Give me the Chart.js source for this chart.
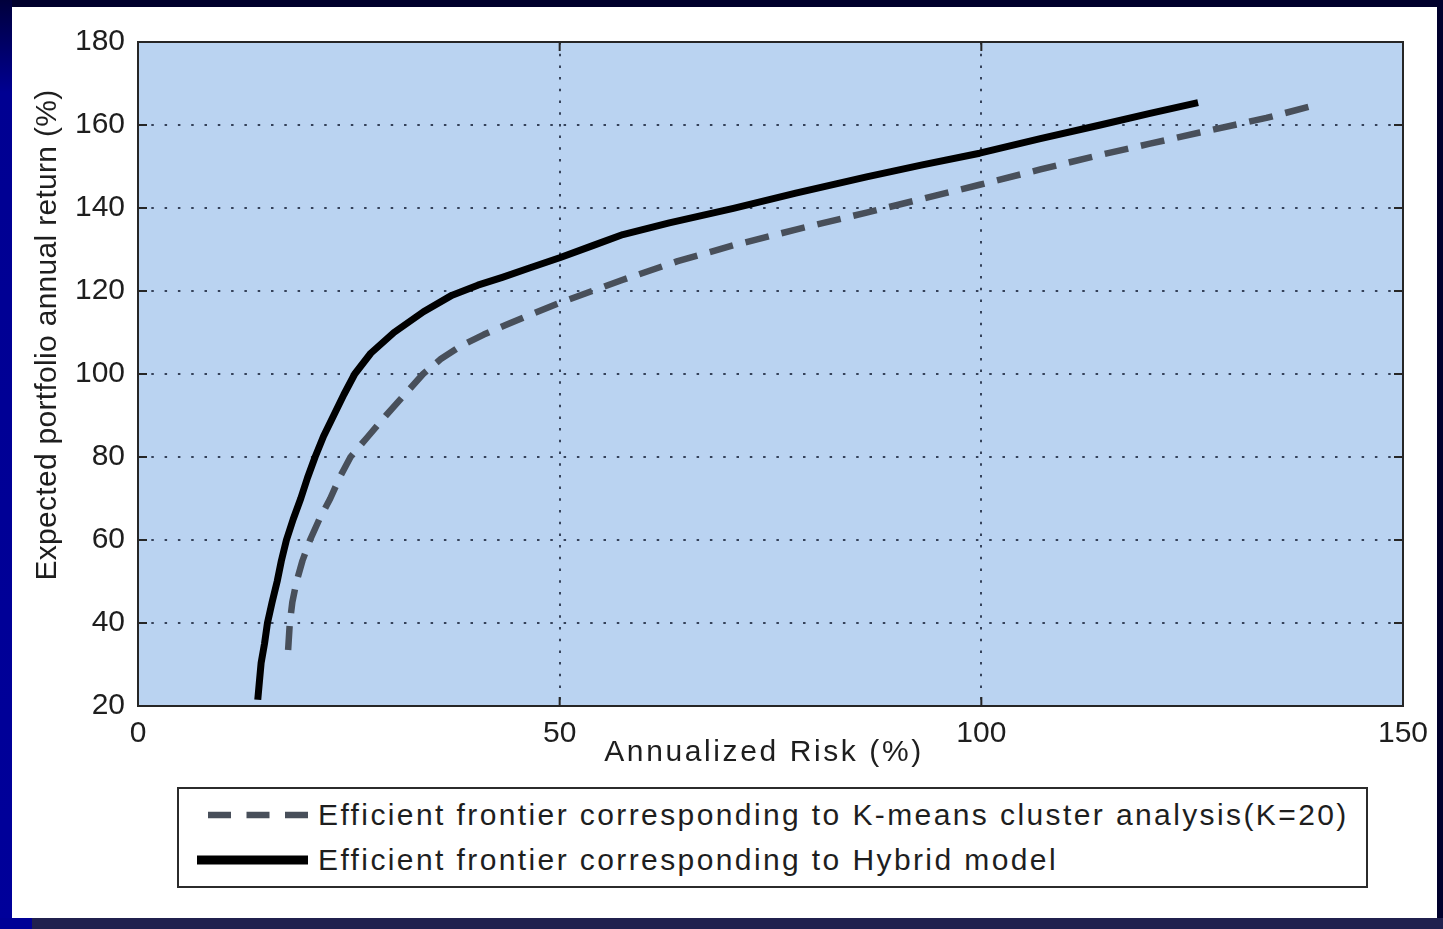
<!DOCTYPE html>
<html>
<head>
<meta charset="utf-8">
<title>Efficient frontier</title>
<script src="https://cdn.jsdelivr.net/npm/chart.js@4.4.1/dist/chart.umd.min.js"></script>
<style>
  html, body { margin: 0; padding: 0; }
  body {
    width: 1443px; height: 929px; position: relative; overflow: hidden;
    background: #00002c;
    font-family: "Liberation Sans", Arial, sans-serif;
  }
  #leftBar { position: absolute; left: 0; top: 0; width: 12px; height: 929px;
    background: linear-gradient(#00003c, #000092 10%, #00009a); }
  #bottomBar { position: absolute; left: 0; top: 918px; width: 1443px; height: 11px;
    background: linear-gradient(90deg, #000096 0, #000096 32px, #20204e 32px); }
  #panel { position: absolute; left: 12px; top: 7px; width: 1425px; height: 911px; background: #fff; }
  #chartBox { position: absolute; left: 0; top: 0; width: 1443px; height: 929px; }
  #legend { position: absolute; left: 177px; top: 787px; width: 1187px; height: 97px;
    border: 2px solid #2b2b2b; background: #fff; }
  .legend-row { position: absolute; left: 0; height: 44px; width: 100%; }
  .legend-row svg { position: absolute; left: 18px; top: 0; }
  .legend-row span { position: absolute; left: 139px; top: 2px; font-size: 30px;
    letter-spacing: 2.4px; color: #1e1e1e; white-space: nowrap; line-height: 36px; }
</style>
</head>
<body>
<div id="leftBar"></div>
<div id="bottomBar"></div>
<div id="panel"></div>
<div id="chartBox"><canvas id="frontierChart" width="1443" height="929"></canvas></div>
<div id="legend"></div>
<script>
// Efficient frontier corresponding to K-means cluster analysis (K=20)
const kmeansRisk   = [17.8, 18.0, 18.3, 18.8, 19.5, 20.4, 21.5, 22.8, 23.9, 25.2, 27.3, 29.4, 31.6, 33.8, 35.9, 38.3, 41.0, 43.6, 46.5, 49.8,
                      57.5, 64.0, 70.6, 78.0, 86.4, 93.0, 99.8, 107.0, 114.1, 120.0, 125.9, 133.8, 139.4];
const kmeansReturn = [33.5, 40.0, 45.0, 50.0, 55.0, 60.0, 65.0, 70.0, 75.0, 80.0, 85.0, 90.0, 95.0, 100.0, 103.6, 106.8, 109.5, 111.8, 114.3, 117.0,
                      122.7, 127.2, 131.0, 134.8, 138.9, 142.2, 145.6, 149.3, 152.8, 155.5, 158.2, 161.7, 164.7];

// Efficient frontier corresponding to Hybrid model
const hybridRisk   = [14.2, 14.4, 14.6, 15.0, 15.35, 15.9, 16.5, 17.0, 17.6, 18.4, 19.3, 20.1, 21.0, 22.0, 23.2, 24.4, 25.7, 27.6, 30.35, 33.85,
                      37.25, 40.3, 43.2, 46.5, 50.0, 54.0, 57.5, 63.0, 70.6, 78.0, 86.4, 93.0, 99.8, 107.0, 114.1, 120.0, 125.7];
const hybridReturn = [21.5, 26.0, 30.4, 35.0, 40.0, 45.0, 50.0, 55.0, 60.0, 65.0, 70.0, 75.0, 80.0, 85.0, 90.0, 95.0, 100.0, 105.0, 110.0, 115.0,
                      119.0, 121.4, 123.3, 125.6, 128.0, 131.0, 133.6, 136.4, 139.9, 143.6, 147.5, 150.4, 153.2, 156.7, 160.0, 162.8, 165.4];

const seriesLabels = [
  'Efficient frontier corresponding to K-means cluster analysis(K=20)',
  'Efficient frontier corresponding to Hybrid model'
];
const xTitle = 'Annualized Risk (%)';
const yTitle = 'Expected portfolio annual return (%)';

const plotBg = '#bad3f1';
const textColor = '#1e1e1e';
const fontFamily = '"Liberation Sans", Arial, sans-serif';

function toPoints(xs, ys) {
  return xs.map((x, i) => ({ x: x, y: ys[i] }));
}

// fond biru + bingkai + tick ke dalam
const plotFrame = {
  id: 'plotFrame',
  beforeDraw(chart) {
    const { ctx, chartArea: a } = chart;
    ctx.save();
    ctx.fillStyle = plotBg;
    ctx.fillRect(a.left, a.top, a.right - a.left, a.bottom - a.top);
    ctx.restore();
  },
  afterDraw(chart) {
    const { ctx, chartArea: a, scales } = chart;
    ctx.save();
    ctx.strokeStyle = '#262626';
    ctx.lineWidth = 2;
    ctx.strokeRect(a.left, a.top, a.right - a.left, a.bottom - a.top);
    ctx.beginPath();
    scales.y.ticks.forEach(t => {
      const py = scales.y.getPixelForValue(t.value);
      ctx.moveTo(a.left, py); ctx.lineTo(a.left + 9, py);
      ctx.moveTo(a.right, py); ctx.lineTo(a.right - 9, py);
    });
    scales.x.ticks.forEach(t => {
      const px = scales.x.getPixelForValue(t.value);
      ctx.moveTo(px, a.bottom); ctx.lineTo(px, a.bottom - 9);
      ctx.moveTo(px, a.top); ctx.lineTo(px, a.top + 9);
    });
    ctx.stroke();

    // judul sumbu
    ctx.fillStyle = textColor;
    ctx.font = '30px ' + fontFamily;
    ctx.textAlign = 'center';
    ctx.textBaseline = 'middle';
    ctx.letterSpacing = '2.6px';
    ctx.fillText(xTitle, 764, 753);
    ctx.letterSpacing = '0.3px';
    ctx.translate(48, 335);
    ctx.rotate(-Math.PI / 2);
    ctx.fillText(yTitle, 0, 0);
    ctx.restore();
  }
};

const ctx = document.getElementById('frontierChart').getContext('2d');
const frontierChart = new Chart(ctx, {
  type: 'scatter',
  data: {
    datasets: [{
      label: seriesLabels[0],
      data: toPoints(kmeansRisk, kmeansReturn),
      showLine: true,
      borderColor: '#484f5a',
      borderWidth: 6.5,
      borderDash: [24, 13],
      borderCapStyle: 'butt',
      borderJoinStyle: 'round',
      tension: 0,
      pointRadius: 0
    }, {
      label: seriesLabels[1],
      data: toPoints(hybridRisk, hybridReturn),
      showLine: true,
      borderColor: '#000000',
      borderWidth: 7,
      borderCapStyle: 'butt',
      borderJoinStyle: 'round',
      tension: 0,
      pointRadius: 0
    }]
  },
  options: {
    responsive: false,
    animation: false,
    layout: { padding: { top: 42, right: 40, bottom: 159, left: 0 } },
    plugins: {
      legend: { display: false },
      tooltip: { enabled: false }
    },
    scales: {
      x: {
        type: 'linear',
        min: 0,
        max: 150,
        afterFit: (scale) => { scale.height = 64; },
        ticks: {
          stepSize: 50,
          padding: 10,
          color: textColor,
          font: { family: fontFamily, size: 30 }
        },
        grid: { color: '#35425a', lineWidth: 2, drawTicks: false },
        border: { display: false, dash: [2.5, 9.2] }
      },
      y: {
        type: 'linear',
        min: 20,
        max: 180,
        afterFit: (scale) => { scale.width = 138; },
        ticks: {
          stepSize: 20,
          padding: 13,
          color: textColor,
          font: { family: fontFamily, size: 30 }
        },
        grid: { color: '#35425a', lineWidth: 2, drawTicks: false },
        border: { display: false, dash: [2.5, 10.8] }
      }
    }
  },
  plugins: [plotFrame]
});

// legenda HTML dengan contoh garis panjang
const legendSamples = [
  { x1: 11, width: 6.5, dash: '23 15.5', color: '#484f5a' },
  { x1: 0, width: 9, dash: '', color: '#000' }
];
const legendEl = document.getElementById('legend');
frontierChart.data.datasets.forEach((ds, i) => {
  const s = legendSamples[i];
  const row = document.createElement('div');
  row.className = 'legend-row';
  row.style.top = (6 + i * 45) + 'px';
  row.innerHTML =
    '<svg width="112" height="44"><line x1="' + s.x1 + '" y1="20" x2="111" y2="20" stroke="' + s.color +
    '" stroke-width="' + s.width + '"' + (s.dash ? ' stroke-dasharray="' + s.dash + '"' : '') + '/></svg>' +
    '<span></span>';
  row.querySelector('span').textContent = ds.label;
  legendEl.appendChild(row);
});
</script>
</body>
</html>
